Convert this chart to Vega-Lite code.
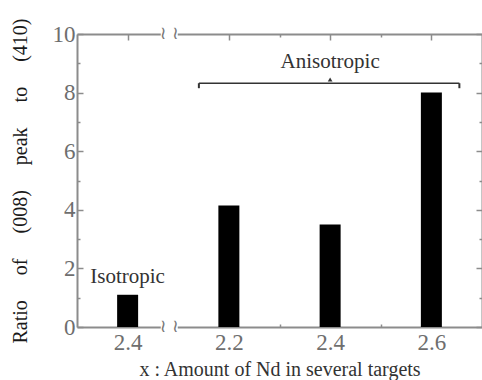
{
  "$schema": "https://vega.github.io/schema/vega-lite/v6.json",
  "autosize": "none",
  "padding": {"left": 77, "top": 34, "right": 0, "bottom": 53},
  "width": 405,
  "height": 293,
  "background": "white",
  "config": {
    "view": {"stroke": null},
    "font": "Liberation Serif, Times New Roman, serif",
    "axis": {"labelFont": "Liberation Serif, Times New Roman, serif", "titleFont": "Liberation Serif, Times New Roman, serif"}
  },
  "datasets": {
    "bars": [
      {"key": "a", "ratio": 1.1},
      {"key": "b", "ratio": 4.15},
      {"key": "c", "ratio": 3.5},
      {"key": "d", "ratio": 8.0}
    ],
    "notes": [
      {"key": "a", "y": 1.7, "text": "Isotropic"},
      {"key": "c", "y": 9.05, "text": "Anisotropic"}
    ],
    "brace": [{"from": "b", "to": "d", "y": 8.32}],
    "hooks": [{"key": "b", "y": 8.32, "y2": 8.15, "side": "left"}, {"key": "d", "y": 8.32, "y2": 8.15, "side": "right"}],
    "peak": [{"key": "c", "y": 8.45}],
    "breaks": [{"key": "ab", "y": 0}, {"key": "ab", "y": 10}]
  },
  "layer": [
    {
      "data": {"name": "bars"},
      "mark": {"type": "bar", "color": "black", "size": 21},
      "encoding": {
        "x": {
          "field": "key", "type": "nominal",
          "scale": {"type": "point", "domain": ["s0", "a", "ab", "b", "bc", "c", "cd", "d", "de"], "padding": 0},
          "axis": {
            "orient": "bottom",
            "title": "x : Amount of Nd in several targets",
            "labelExpr": "datum.value == 'a' ? '2.4' : datum.value == 'b' ? '2.2' : datum.value == 'c' ? '2.4' : datum.value == 'd' ? '2.6' : ''",
            "labelAngle": 0,
            "labelFontSize": 23,
            "labelColor": "#6e6e6e",
            "labelPadding": 10,
            "labelOverlap": false,
            "tickSize": {"condition": {"test": "indexof(['bc','cd'], datum.value) >= 0", "value": -3}, "value": -6},
            "tickOpacity": {"condition": {"test": "indexof(['s0','ab','de'], datum.value) >= 0", "value": 0}, "value": 1},
            "tickColor": "#8c8c8c",
            "tickWidth": 1.5,
            "domainColor": "#8c8c8c",
            "domainWidth": 2,
            "titleFontSize": 20,
            "titleFontWeight": "normal",
            "titleColor": "#333333",
            "titlePadding": 2
          }
        },
        "y": {
          "field": "ratio", "type": "quantitative",
          "scale": {"domain": [0, 10], "nice": false},
          "axis": {
            "orient": "left",
            "title": "\u00a0\u00a0\u00a0Ratio\u00a0\u00a0\u00a0\u00a0\u00a0of\u00a0\u00a0\u00a0\u00a0\u00a0(008)\u00a0\u00a0\u00a0\u00a0\u00a0peak\u00a0\u00a0\u00a0\u00a0\u00a0to\u00a0\u00a0\u00a0\u00a0\u00a0(410)",
            "values": [0, 1, 2, 3, 4, 5, 6, 7, 8, 9, 10],
            "labelExpr": "datum.value % 2 == 0 ? datum.label : ''",
            "labelFontSize": 23,
            "labelColor": "#6e6e6e",
            "labelPadding": 8,
            "labelOverlap": false,
            "tickSize": {"condition": {"test": "datum.value % 2 == 0", "value": -6}, "value": -3},
            "tickColor": "#8c8c8c",
            "tickWidth": 1.5,
            "domainColor": "#8c8c8c",
            "domainWidth": 2,
            "grid": false,
            "titleFontSize": 20,
            "titleFontWeight": "normal",
            "titleColor": "#1a1a1a",
            "titlePadding": 22
          }
        }
      }
    },
    {
      "data": {"name": "notes"},
      "mark": {"type": "text", "fontSize": 21, "color": "#333333", "baseline": "middle"},
      "encoding": {
        "x": {"field": "key", "type": "nominal", "axis": null},
        "y": {"field": "y", "type": "quantitative", "axis": null},
        "text": {"field": "text"}
      }
    },
    {
      "data": {"name": "brace"},
      "mark": {"type": "rule", "color": "#333333", "strokeWidth": 1.5, "xOffset": -30, "x2Offset": 28},
      "encoding": {
        "x": {"field": "from", "type": "nominal", "axis": null},
        "x2": {"field": "to"},
        "y": {"field": "y", "type": "quantitative", "axis": null}
      }
    },
    {
      "data": {"name": "hooks"},
      "transform": [{"filter": "datum.side == 'left'"}],
      "mark": {"type": "rule", "color": "#333333", "strokeWidth": 2, "xOffset": -30},
      "encoding": {
        "x": {"field": "key", "type": "nominal", "axis": null},
        "y": {"field": "y", "type": "quantitative", "axis": null},
        "y2": {"field": "y2"}
      }
    },
    {
      "data": {"name": "hooks"},
      "transform": [{"filter": "datum.side == 'right'"}],
      "mark": {"type": "rule", "color": "#333333", "strokeWidth": 2, "xOffset": 28},
      "encoding": {
        "x": {"field": "key", "type": "nominal", "axis": null},
        "y": {"field": "y", "type": "quantitative", "axis": null},
        "y2": {"field": "y2"}
      }
    },
    {
      "data": {"name": "peak"},
      "mark": {"type": "point", "shape": "triangle-up", "filled": true, "size": 22, "color": "#333333", "opacity": 1},
      "encoding": {
        "x": {"field": "key", "type": "nominal", "axis": null},
        "y": {"field": "y", "type": "quantitative", "axis": null}
      }
    },
    {
      "data": {"name": "breaks"},
      "mark": {"type": "point", "shape": "square", "filled": true, "size": 289, "color": "white", "opacity": 1, "xOffset": -9},
      "encoding": {
        "x": {"field": "key", "type": "nominal", "axis": {
            "orient": "top",
            "title": null,
            "labels": false,
            "tickSize": {"condition": {"test": "indexof(['bc','cd'], datum.value) >= 0", "value": -3}, "value": -6},
            "tickOpacity": {"condition": {"test": "indexof(['s0','ab','de'], datum.value) >= 0", "value": 0}, "value": 1},
            "tickColor": "#8c8c8c",
            "tickWidth": 1.5,
            "domainColor": "#8c8c8c",
            "domainWidth": 2
          }},
        "y": {"field": "y", "type": "quantitative", "axis": {
            "orient": "right",
            "title": null,
            "labels": false,
            "values": [0, 1, 2, 3, 4, 5, 6, 7, 8, 9, 10],
            "tickSize": {"condition": {"test": "datum.value % 2 == 0", "value": -6}, "value": -3},
            "tickColor": "#8c8c8c",
            "tickWidth": 1.5,
            "domainColor": "#8c8c8c",
            "domainWidth": 2,
            "grid": false
          }}
      }
    },
    {
      "data": {"name": "breaks"},
      "mark": {"type": "text", "text": "≀ ≀", "font": "DejaVu Sans", "fontSize": 18, "color": "#777777", "baseline": "middle", "xOffset": -9},
      "encoding": {
        "x": {"field": "key", "type": "nominal", "axis": null},
        "y": {"field": "y", "type": "quantitative", "axis": null}
      }
    }
  ],
  "resolve": {"axis": {"x": "independent", "y": "independent"}}
}
